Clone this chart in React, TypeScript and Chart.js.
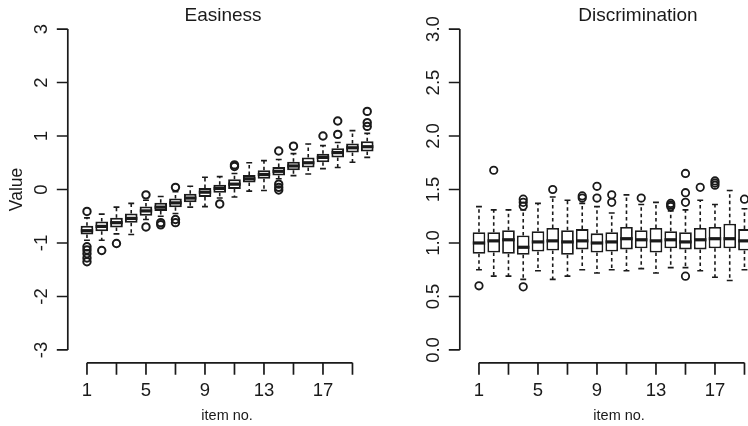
import React, { useEffect, useRef } from "react";
import { Chart, registerables } from "chart.js";

Chart.register(...registerables);

// ---------------- data ----------------
const itemNumbers = [1, 2, 3, 4, 5, 6, 7, 8, 9, 10, 11, 12, 13, 14, 15, 16, 17, 18, 19, 20];
const itemCount = 20;

const xTickValues = [1, 3, 5, 7, 9, 11, 13, 15, 17, 19];
const xTickLabels = ["1", "", "5", "", "9", "", "13", "", "17", ""];

// Easiness
const easinessLowerWhisker = [-0.95, -0.95, -0.83, -0.84, -0.56, -0.5, -0.45, -0.33, -0.32, -0.16, -0.14, -0.03, -0.02, 0.2, 0.26, 0.29, 0.39, 0.41, 0.51, 0.6];
const easinessQ1 = [-0.84, -0.78, -0.71, -0.62, -0.49, -0.4, -0.33, -0.24, -0.14, -0.06, 0.01, 0.13, 0.2, 0.26, 0.36, 0.41, 0.51, 0.6, 0.69, 0.71];
const easinessMedian = [-0.77, -0.69, -0.62, -0.54, -0.4, -0.33, -0.25, -0.16, -0.05, 0.02, 0.1, 0.2, 0.28, 0.34, 0.44, 0.5, 0.6, 0.69, 0.78, 0.8];
const easinessQ3 = [-0.68, -0.6, -0.53, -0.45, -0.32, -0.25, -0.17, -0.08, 0.03, 0.09, 0.19, 0.27, 0.36, 0.42, 0.52, 0.6, 0.67, 0.77, 0.86, 0.9];
const easinessUpperWhisker = [-0.53, -0.46, -0.33, -0.26, -0.2, -0.13, -0.04, 0.06, 0.23, 0.24, 0.3, 0.5, 0.54, 0.56, 0.67, 0.85, 0.82, 0.88, 1.1, 1.05];
const easinessOutliers = [
  [-0.41, -1.07, -1.13, -1.2, -1.28, -1.35],
  [-1.14],
  [-1.01],
  [],
  [-0.1, -0.7],
  [-0.62, -0.66],
  [0.04, -0.56, -0.62],
  [],
  [],
  [-0.27],
  [0.43, 0.46],
  [],
  [],
  [0.72, 0.1, 0.04, -0.01],
  [0.81],
  [],
  [1.0],
  [1.03, 1.28],
  [],
  [1.18, 1.25, 1.46],
];
const easinessYTicks = [-3, -2, -1, 0, 1, 2, 3];
const easinessYTickLabels = ["-3", "-2", "-1", "0", "1", "2", "3"];

// Discrimination (item 20 lies outside the visible picture)
const discriminationLowerWhisker = [0.75, 0.69, 0.69, 0.66, 0.74, 0.66, 0.69, 0.75, 0.72, 0.75, 0.74, 0.76, 0.72, 0.77, 0.77, 0.74, 0.68, 0.65, 0.75];
const discriminationQ1 = [0.9, 0.91, 0.9, 0.89, 0.92, 0.93, 0.89, 0.94, 0.91, 0.92, 0.94, 0.95, 0.91, 0.95, 0.94, 0.94, 0.95, 0.95, 0.93];
const discriminationMedian = [1.0, 1.02, 1.03, 0.96, 1.01, 1.02, 1.01, 1.02, 1.0, 1.01, 1.04, 1.03, 1.02, 1.03, 1.01, 1.03, 1.04, 1.04, 1.02];
const discriminationQ3 = [1.1, 1.1, 1.12, 1.07, 1.11, 1.14, 1.12, 1.13, 1.09, 1.1, 1.15, 1.12, 1.14, 1.11, 1.1, 1.14, 1.15, 1.18, 1.13];
const discriminationUpperWhisker = [1.34, 1.31, 1.31, 1.31, 1.37, 1.43, 1.4, 1.37, 1.34, 1.28, 1.45, 1.36, 1.38, 1.3, 1.31, 1.4, 1.36, 1.49, 1.32];
const discriminationOutliers = [
  [0.6],
  [1.68],
  [],
  [1.345, 1.38, 1.41, 0.59],
  [],
  [1.5],
  [],
  [1.42, 1.44],
  [1.42, 1.53],
  [1.38, 1.45],
  [],
  [1.42],
  [],
  [1.34, 1.355, 1.37],
  [1.38, 1.47, 1.65, 0.69],
  [1.52],
  [1.54, 1.56, 1.58],
  [],
  [1.41],
];
const discriminationYTicks = [0, 0.5, 1, 1.5, 2, 2.5, 3];
const discriminationYTickLabels = ["0.0", "0.5", "1.0", "1.5", "2.0", "2.5", "3.0"];

// ---------------- drawing ----------------
const INK = "#1a1a1a";
const FONT = '"Liberation Sans", Arial, Helvetica, sans-serif';

type PanelSpec = {
  title: string;
  titleX: number;
  ylab: string;
  lower: number[];
  q1: number[];
  median: number[];
  q3: number[];
  upper: number[];
  outliers: number[][];
  yTicks: number[];
  yTickLabels: string[];
  boxLine: number;
};

function makePlugin(spec: PanelSpec) {
  return {
    id: "rBoxplot",
    beforeDatasetsDraw(chart: any) {
      const { ctx } = chart;
      const xs = chart.scales.x;
      const ys = chart.scales.y;
      const unit = xs.getPixelForValue(1) - xs.getPixelForValue(0);
      const capHalf = unit * 0.2;
      ctx.save();
      ctx.strokeStyle = INK;
      ctx.lineWidth = 1.6;
      for (let i = 0; i < spec.median.length; i++) {
        const x = xs.getPixelForValue(itemNumbers[i]);
        const yq1 = ys.getPixelForValue(spec.q1[i]);
        const yq3 = ys.getPixelForValue(spec.q3[i]);
        const ylo = ys.getPixelForValue(spec.lower[i]);
        const yhi = ys.getPixelForValue(spec.upper[i]);
        ctx.setLineDash([3.5, 3]);
        ctx.beginPath();
        ctx.moveTo(x, yq3);
        ctx.lineTo(x, yhi);
        ctx.moveTo(x, yq1);
        ctx.lineTo(x, ylo);
        ctx.stroke();
        ctx.setLineDash([]);
        ctx.beginPath();
        ctx.moveTo(x - capHalf, yhi);
        ctx.lineTo(x + capHalf, yhi);
        ctx.moveTo(x - capHalf, ylo);
        ctx.lineTo(x + capHalf, ylo);
        ctx.stroke();
      }
      ctx.restore();
    },
    afterDatasetsDraw(chart: any) {
      const { ctx } = chart;
      const xs = chart.scales.x;
      const ys = chart.scales.y;
      const unit = xs.getPixelForValue(1) - xs.getPixelForValue(0);
      const half = unit * 0.42;
      ctx.save();
      ctx.strokeStyle = INK;
      ctx.lineWidth = 3.2;
      ctx.lineCap = "butt";
      for (let i = 0; i < spec.median.length; i++) {
        const x = xs.getPixelForValue(itemNumbers[i]);
        const y = ys.getPixelForValue(spec.median[i]);
        ctx.beginPath();
        ctx.moveTo(x - half, y);
        ctx.lineTo(x + half, y);
        ctx.stroke();
      }
      ctx.restore();
    },
    afterDraw(chart: any) {
      const { ctx, chartArea } = chart;
      const xs = chart.scales.x;
      const ys = chart.scales.y;
      const left = chartArea.left;
      const bottom = chartArea.bottom;
      ctx.save();
      ctx.strokeStyle = INK;
      ctx.fillStyle = INK;
      ctx.lineWidth = 1.7;
      ctx.setLineDash([]);
      // y axis
      const yTop = ys.getPixelForValue(spec.yTicks[spec.yTicks.length - 1]);
      const yBot = ys.getPixelForValue(spec.yTicks[0]);
      ctx.beginPath();
      ctx.moveTo(left, yTop);
      ctx.lineTo(left, yBot);
      spec.yTicks.forEach((t) => {
        const y = ys.getPixelForValue(t);
        ctx.moveTo(left, y);
        ctx.lineTo(left - 11, y);
      });
      ctx.stroke();
      // x axis
      const x1 = xs.getPixelForValue(xTickValues[0]);
      const x2 = xs.getPixelForValue(xTickValues[xTickValues.length - 1]);
      ctx.beginPath();
      ctx.moveTo(x1, bottom);
      ctx.lineTo(x2, bottom);
      xTickValues.forEach((t) => {
        const x = xs.getPixelForValue(t);
        ctx.moveTo(x, bottom);
        ctx.lineTo(x, bottom + 12);
      });
      ctx.stroke();
      // tick labels
      ctx.font = `18.5px ${FONT}`;
      ctx.textAlign = "center";
      ctx.textBaseline = "alphabetic";
      xTickValues.forEach((t, i) => {
        if (xTickLabels[i]) ctx.fillText(xTickLabels[i], xs.getPixelForValue(t), bottom + 33);
      });
      spec.yTicks.forEach((t, i) => {
        const y = ys.getPixelForValue(t);
        ctx.save();
        ctx.translate(left - 21, y);
        ctx.rotate(-Math.PI / 2);
        ctx.fillText(spec.yTickLabels[i], 0, 0);
        ctx.restore();
      });
      // title
      ctx.font = `19px ${FONT}`;
      ctx.fillText(spec.title, spec.titleX, 21);
      // x label
      const cx = (chartArea.left + chartArea.right) / 2;
      ctx.font = `14.5px ${FONT}`;
      ctx.fillText("item no.", cx, 420);
      // y label
      if (spec.ylab) {
        ctx.font = `17.5px ${FONT}`;
        ctx.save();
        ctx.translate(left - 46, (chartArea.top + chartArea.bottom) / 2);
        ctx.rotate(-Math.PI / 2);
        ctx.fillText(spec.ylab, 0, 0);
        ctx.restore();
      }
      ctx.restore();
    },
  };
}

function buildConfig(spec: PanelSpec): any {
  const yMin = spec.yTicks[0];
  const yMax = spec.yTicks[spec.yTicks.length - 1];
  const yExt = (yMax - yMin) * 0.04;
  const xMin = 0.5 - itemCount * 0.04;
  const xMax = itemCount + 0.5 + itemCount * 0.04;
  const boxes = spec.median.map((_, i) => ({ x: itemNumbers[i], y: [spec.q1[i], spec.q3[i]] }));
  const points: { x: number; y: number }[] = [];
  spec.outliers.forEach((arr, i) => arr.forEach((v) => points.push({ x: itemNumbers[i], y: v })));
  return {
    type: "bar",
    data: {
      datasets: [
        {
          type: "scatter",
          data: points,
          pointStyle: "circle",
          pointRadius: 3.7,
          pointBorderWidth: spec.boxLine,
          pointBorderColor: INK,
          pointBackgroundColor: "rgba(0,0,0,0)",
        },
        {
          type: "bar",
          data: boxes,
          backgroundColor: "#ffffff",
          borderColor: INK,
          borderWidth: spec.boxLine,
          borderSkipped: false,
          barPercentage: 0.86,
          categoryPercentage: 1,
        },
      ],
    },
    options: {
      animation: false,
      responsive: false,
      devicePixelRatio: 1,
      events: [],
      layout: { padding: { left: 67.8, right: 13.6, top: 16.2, bottom: 63.2 } },
      scales: {
        x: { type: "linear", min: xMin, max: xMax, offset: false, display: false },
        y: { type: "linear", min: yMin - yExt, max: yMax + yExt, display: false },
      },
      plugins: { legend: { display: false }, tooltip: { enabled: false }, title: { display: false } },
    },
    plugins: [makePlugin(spec)],
  };
}

const easinessSpec: PanelSpec = {
  title: "Easiness",
  titleX: 223,
  ylab: "Value",
  lower: easinessLowerWhisker,
  q1: easinessQ1,
  median: easinessMedian,
  q3: easinessQ3,
  upper: easinessUpperWhisker,
  outliers: easinessOutliers,
  yTicks: easinessYTicks,
  yTickLabels: easinessYTickLabels,
  boxLine: 2,
};

const discriminationSpec: PanelSpec = {
  title: "Discrimination",
  titleX: 246,
  ylab: "",
  lower: discriminationLowerWhisker,
  q1: discriminationQ1,
  median: discriminationMedian,
  q3: discriminationQ3,
  upper: discriminationUpperWhisker,
  outliers: discriminationOutliers,
  yTicks: discriminationYTicks,
  yTickLabels: discriminationYTickLabels,
  boxLine: 1.8,
};

function Panel({ spec, left }: { spec: PanelSpec; left: number }) {
  const ref = useRef<HTMLCanvasElement>(null);
  useEffect(() => {
    const chart = new Chart(ref.current as HTMLCanvasElement, buildConfig(spec));
    return () => chart.destroy();
  }, [spec]);
  return (
    <div
      style={{
        position: "absolute",
        left,
        top: 0,
        width: Math.min(400, 748 - left),
        height: 426,
        overflow: "hidden",
      }}
    >
      <canvas ref={ref} width={400} height={426} style={{ width: 400, height: 426, display: "block" }} />
    </div>
  );
}

export default function App() {
  return (
    <div style={{ position: "absolute", left: 0, top: 0, width: 748, height: 426, background: "#fff", overflow: "hidden" }}>
      <Panel spec={easinessSpec} left={0} />
      <Panel spec={discriminationSpec} left={392} />
    </div>
  );
}
